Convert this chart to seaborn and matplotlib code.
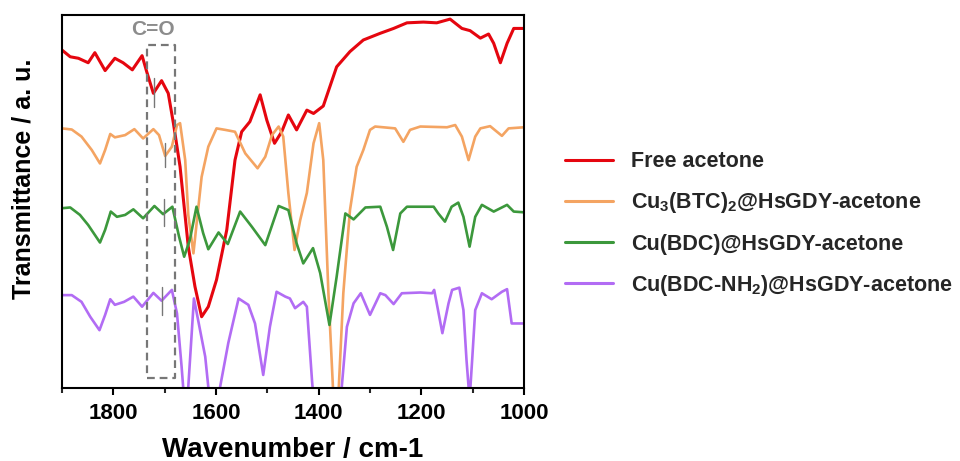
import matplotlib
matplotlib.use("Agg")
import matplotlib.pyplot as plt
import seaborn as sns
import pandas as pd
from matplotlib.ticker import MultipleLocator

# ---------------- data ----------------
labels = ["Free acetone",
          "Cu$_{3}$(BTC)$_{2}$@HsGDY-acetone",
          "Cu(BDC)@HsGDY-acetone",
          "Cu(BDC-NH$_{2}$)@HsGDY-acetone"]
colors = ["#E5060F", "#F4A462", "#3C983C", "#B26CF4"]

free_w = [1900, 1884, 1868, 1849, 1836, 1816, 1797, 1781, 1763, 1744, 1735, 1722, 1706, 1693,
          1683, 1670, 1654, 1641, 1628, 1615, 1599, 1579, 1563, 1550, 1534, 1514, 1501, 1486,
          1472, 1459, 1443, 1423, 1410, 1391, 1365, 1339, 1313, 1280, 1254, 1228, 1196, 1170,
          1144, 1121, 1105, 1085, 1069, 1059, 1046, 1033, 1020, 1000]
free_t = [90.6, 88.8, 88.4, 87.2, 89.9, 85.1, 88.4, 87.2, 85.3, 89.1, 84.8, 79.0, 82.4, 79.0,
          71.0, 59.3, 37.9, 27.2, 19.1, 21.8, 29.0, 42.4, 61.1, 68.7, 71.4, 78.6, 71.8, 65.6,
          68.7, 73.2, 69.2, 74.5, 73.6, 75.6, 86.1, 90.2, 93.3, 95.1, 96.4, 97.9, 98.1, 97.9,
          98.9, 96.4, 95.8, 93.8, 94.9, 92.4, 87.2, 92.4, 96.4, 96.4]

btc_w = [1900, 1881, 1862, 1842, 1826, 1816, 1806, 1797, 1777, 1759, 1742, 1722, 1711, 1699,
         1686, 1676, 1670, 1660, 1654, 1644, 1628, 1615, 1599, 1582, 1563, 1543, 1519, 1504,
         1491, 1478, 1469, 1459, 1447, 1436, 1423, 1410, 1399, 1391, 1381, 1371, 1362, 1352,
         1339, 1326, 1313, 1300, 1290, 1251, 1235, 1222, 1202, 1150, 1134, 1121, 1108, 1095,
         1085, 1066, 1043, 1030, 1000]
btc_t = [69.6, 69.3, 67.4, 63.8, 60.2, 63.8, 68.1, 67.2, 67.8, 69.4, 66.9, 69.4, 67.8, 62.2,
         64.7, 70.5, 71.0, 61.1, 46.4, 36.1, 56.6, 64.7, 69.6, 69.2, 68.7, 62.9, 58.9, 62.0,
         67.8, 70.1, 67.4, 52.2, 37.0, 45.0, 52.3, 65.6, 71.0, 61.1, 25.4, -3.2, -3.2, 25.4,
         47.7, 59.3, 63.8, 69.2, 70.1, 69.6, 66.0, 69.2, 70.1, 69.9, 70.5, 67.4, 61.1, 67.4,
         69.6, 70.2, 67.6, 69.6, 69.9]

bdc_w = [1900, 1884, 1865, 1849, 1826, 1816, 1805, 1793, 1777, 1761, 1742, 1720, 1703, 1685,
         1672, 1662, 1651, 1638, 1625, 1615, 1595, 1577, 1553, 1530, 1504, 1478, 1459, 1443,
         1430, 1411, 1397, 1379, 1365, 1348, 1332, 1309, 1280, 1267, 1255, 1241, 1228, 1176,
         1167, 1154, 1141, 1128, 1118, 1106, 1095, 1082, 1059, 1033, 1020, 1000]
bdc_t = [48.2, 48.4, 46.4, 43.7, 39.0, 42.4, 47.3, 45.9, 46.4, 47.9, 45.5, 48.8, 46.6, 48.6,
         40.6, 35.2, 39.7, 48.6, 41.5, 37.2, 41.7, 38.6, 47.3, 43.2, 38.3, 48.8, 47.7, 38.8,
         33.4, 37.5, 30.8, 16.9, 29.8, 46.8, 45.2, 48.4, 48.6, 43.2, 37.0, 46.8, 48.6, 48.6,
         46.8, 44.6, 48.6, 49.7, 45.9, 37.9, 45.9, 49.1, 47.3, 49.1, 47.3, 47.1]

nh2_w = [1900, 1881, 1862, 1845, 1827, 1816, 1806, 1797, 1779, 1761, 1744, 1722, 1706, 1686,
         1676, 1667, 1664, 1659, 1654, 1643, 1621, 1615, 1604, 1592, 1576, 1556, 1537, 1524,
         1508, 1495, 1482, 1465, 1456, 1446, 1430, 1423, 1413, 1409, 1385, 1355, 1345, 1332,
         1318, 1300, 1280, 1270, 1254, 1238, 1202, 1179, 1175, 1170, 1159, 1147, 1140, 1126,
         1118, 1112, 1106, 1101, 1095, 1082, 1063, 1043, 1033, 1024, 1000]
nh2_t = [24.9, 24.9, 23.1, 19.1, 15.5, 19.6, 23.8, 22.3, 23.1, 24.5, 21.8, 25.5, 23.4, 26.3,
         20.0, 5.7, 0.3, -4.6, 0.3, 24.0, 8.4, 0.3, -5.9, 0.3, 12.1, 24.0, 22.3, 17.3,
         3.5, 16.4, 25.8, 24.5, 24.0, 21.4, 23.1, 21.8, 2.1, -4.6, -8.6, 0.3, 16.4, 22.7,
         25.4, 19.6, 25.4, 24.9, 22.5, 25.4, 25.6, 25.4, 26.3, 22.7, 14.7, 22.7, 26.3, 26.9,
         20.9, 7.5, -3.2, 7.5, 20.9, 25.4, 23.8, 25.8, 26.5, 17.3, 17.3]

# C=O band marker positions (wavenumber, lower, upper) for each curve
mark_w = [1720, 1700, 1701, 1705]
mark_lo = [75.4, 59.2, 43.4, 19.6]
mark_hi = [83.0, 65.7, 50.7, 27.1]
box_w = [1734, 1680]
box_t = [2.6, 92.0]

# ---------------- build table ----------------
frames = []
for lab, w, t in zip(labels, [free_w, btc_w, bdc_w, nh2_w], [free_t, btc_t, bdc_t, nh2_t]):
    frames.append(pd.DataFrame({"w": w, "t": t, "series": lab}))
df = pd.concat(frames, ignore_index=True)

sns.set_theme(style="white")
plt.rcParams["font.family"] = ["Liberation Sans", "DejaVu Sans"]
plt.rcParams["font.weight"] = "bold"
plt.rcParams["mathtext.fontset"] = "custom"
plt.rcParams["mathtext.rm"] = "Liberation Sans:bold"
plt.rcParams["mathtext.it"] = "Liberation Sans:bold"
plt.rcParams["mathtext.bf"] = "Liberation Sans:bold"
plt.rcParams["lines.solid_joinstyle"] = "round"
plt.rcParams["lines.solid_capstyle"] = "round"

fig = plt.figure(figsize=(9.6, 4.61), dpi=100)
ax = fig.add_axes([62 / 960, 1 - 388 / 461, (524 - 62) / 960, (388 - 15) / 461])

sns.lineplot(data=df, x="w", y="t", hue="series", hue_order=labels,
             palette=dict(zip(labels, colors)), estimator=None, sort=True,
             linewidth=1.9, ax=ax, legend=True)
for line in ax.lines[:1]:
    line.set_linewidth(2.2)

ax.set_xlim(1900, 1000)
ax.set_ylim(0, 100)

# C=O dashed box and label
ax.plot([box_w[0], box_w[1], box_w[1], box_w[0], box_w[0]],
        [box_t[0], box_t[0], box_t[1], box_t[1], box_t[0]],
        color="#777777", lw=1.6, ls=(0, (3.5, 2.2)), zorder=5)
ax.text(1723, 96, "C=O", color="#8c8c8c", fontsize=15, fontweight="bold",
        ha="center", va="center")
for mw, lo, hi in zip(mark_w, mark_lo, mark_hi):
    ax.plot([mw, mw], [lo, hi], color="#777777", lw=1.0, zorder=6)

# axes styling
for sp in ax.spines.values():
    sp.set_visible(True)
    sp.set_color("black")
    sp.set_linewidth(1.5)
ax.set_yticks([])
ax.xaxis.set_major_locator(MultipleLocator(200))
ax.xaxis.set_minor_locator(MultipleLocator(100))
ax.tick_params(axis="x", which="major", direction="out", length=5, width=1.5,
               labelsize=16, pad=6, bottom=True, colors="black")
ax.tick_params(axis="x", which="minor", direction="out", length=3.5, width=1.5, bottom=True)
for lab in ax.get_xticklabels():
    lab.set_fontweight("bold")

ax.set_xlabel("Wavenumber / cm-1", fontsize=20, fontweight="bold", labelpad=9, color="black")
ax.set_ylabel("Transmittance / a. u.", fontsize=18, fontweight="bold", color="black")
ax.yaxis.set_label_coords(-0.058, 0.56)

handles, _ = ax.get_legend_handles_labels()
ax.legend_.remove()
leg = fig.legend(handles=handles, labels=labels, loc="center left",
                 bbox_to_anchor=(565 / 960, 1 - 224.5 / 461), frameon=False,
                 fontsize=15.5, handlelength=2.25, handletextpad=0.8,
                 labelspacing=0.85, borderpad=0, borderaxespad=0)
for t in leg.get_texts():
    t.set_fontweight("bold")
for h in leg.get_lines():
    h.set_linewidth(2.2)

fig.savefig("out.png", dpi=100)
